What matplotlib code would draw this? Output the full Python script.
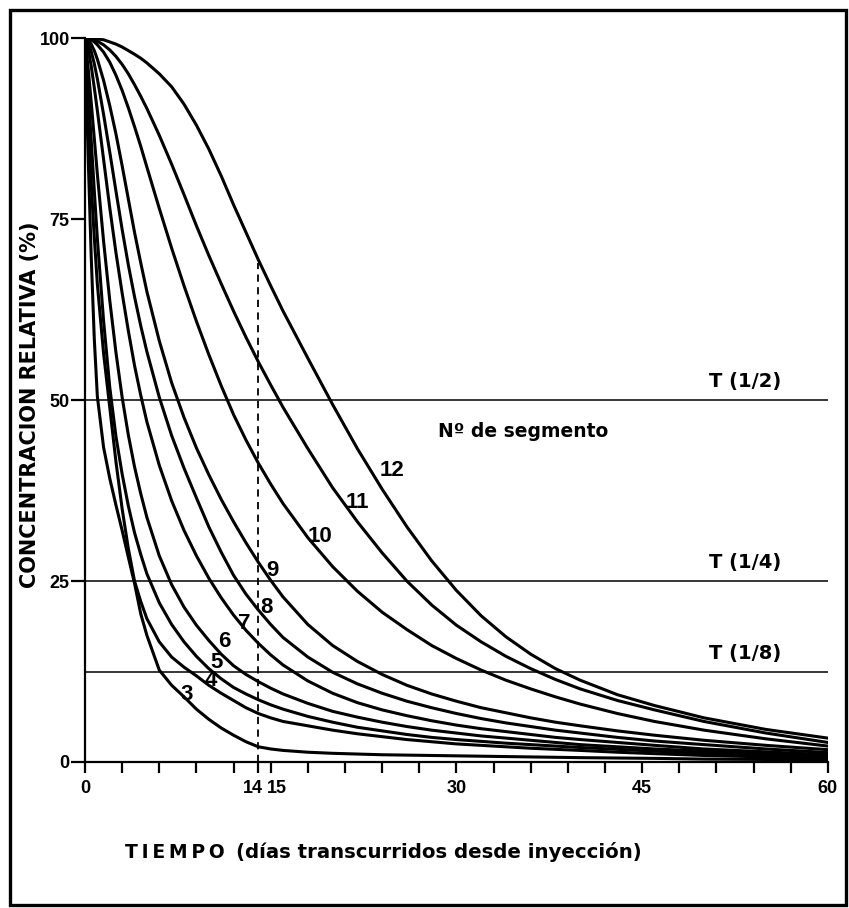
import matplotlib
matplotlib.use("Agg")
import matplotlib.pyplot as plt
from matplotlib.patches import Rectangle
from matplotlib.transforms import ScaledTranslation

# ---- values (days, % of initial) ----
t_days = [0, 0.25, 0.5, 0.75, 1, 1.5, 2, 2.5, 3, 3.5, 4, 4.5, 5,
          6, 7, 8, 9, 10, 11, 12, 13, 14, 15, 16,
          18, 20, 22, 24, 26, 28, 30,
          32, 34, 36, 38, 40,
          43, 46, 50, 55, 60]

seg3 = [100, 84, 70, 58.5, 50.5, 43.5, 39.2, 35.5, 32, 28.3, 24.7, 20.5, 17.5,
        12.7, 10.6, 9.0, 7.3, 5.9, 4.7, 3.7, 2.8, 2.1, 1.8, 1.6,
        1.35, 1.2, 1.1, 1.0, 0.95, 0.9, 0.85,
        0.8, 0.75, 0.7, 0.65, 0.6,
        0.55, 0.5, 0.4, 0.35, 0.3]
seg4 = [100, 89, 80, 72.5, 66, 56.5, 49, 41.5, 35, 29.5, 25, 22.2, 19.8,
        16.6, 14.5, 13.1, 11.9, 10.6, 9.5, 8.5, 7.5, 6.7, 6.1, 5.6,
        5, 4.4, 3.9, 3.5, 3.1, 2.8, 2.5,
        2.3, 2.1, 1.9, 1.75, 1.6,
        1.35, 1.15, 0.9, 0.7, 0.5]
seg5 = [100, 93, 86, 79, 72.3, 61, 51.8, 45, 39.8, 35.4, 31.7, 28.7, 26,
        22, 19, 16.6, 14.6, 12.9, 11.5, 10.3, 9.4, 8.6, 7.9, 7.3,
        6.3, 5.5, 4.8, 4.3, 3.8, 3.4, 3.1,
        2.85, 2.6, 2.4, 2.2, 2.0,
        1.75, 1.5, 1.2, 0.9, 0.6]
seg6 = [100, 96, 91.2, 86.2, 81.2, 72, 63.8, 56.6, 50.4, 45.2, 40.8, 37.1, 33.8,
        28.5, 24.5, 21.4, 18.9, 16.8, 14.9, 13.3, 12.1, 11.1, 10.2, 9.4,
        8.1, 7, 6.2, 5.5, 4.9, 4.4, 4,
        3.6, 3.3, 3.0, 2.7, 2.4,
        2.1, 1.8, 1.5, 1.1, 0.8]
seg7 = [100, 98.6, 96.2, 93.2, 90, 83.3, 76.6, 70.4, 64.8, 59.6, 54.8, 50.7, 47,
        41, 36.1, 32, 28.5, 25.4, 22.7, 20.3, 18.2, 16.4, 14.8, 13.4,
        11.2, 9.5, 8.2, 7.2, 6.4, 5.7, 5.1,
        4.6, 4.2, 3.8, 3.4, 3.1,
        2.7, 2.3, 1.8, 1.4, 1.0]
seg8 = [100, 99.5, 98.2, 96.5, 94.4, 89.5, 84.3, 78.9, 73.6, 68.7, 64.3, 60.3, 56.7,
        50.4, 45.1, 40.6, 36.5, 32.5, 29.0, 25.8, 23.2, 21.0, 19.0, 17.2,
        14.5, 12.4, 10.8, 9.5, 8.4, 7.5, 6.7,
        6.0, 5.4, 4.9, 4.4, 4.0,
        3.4, 2.9, 2.4, 1.8, 1.3]
seg9 = [100, 99.8, 99.2, 98.3, 97.1, 94.2, 90.7, 86.8, 82.4, 77.8, 73.2, 69.0, 65,
        58.2, 52.4, 47.6, 43.4, 39.7, 36.3, 33.2, 30.3, 27.6, 25.1, 22.8,
        19, 16.1, 13.9, 12.1, 10.6, 9.4, 8.4,
        7.5, 6.8, 6.1, 5.5, 5.0,
        4.3, 3.7, 3.0, 2.3, 1.7]
seg10 = [100, 100, 99.8, 99.5, 99.1, 98.1, 96.7, 94.9, 92.8, 90.4, 87.8, 85.1, 82.2,
         76.5, 71, 65.8, 60.9, 56.3, 52, 48, 44.5, 41.3, 38.4, 35.7,
         31, 27, 23.6, 20.7, 18.3, 16.1, 14.3,
         12.7, 11.3, 10.1, 9.0, 8.0,
         6.7, 5.6, 4.4, 3.2, 2.2]
seg11 = [100, 100, 99.9, 99.8, 99.6, 99.1, 98.4, 97.5, 96.4, 95.1, 93.6, 92.0, 90.3,
         86.6, 82.6, 78.4, 74.1, 70, 66.1, 62.3, 58.7, 55.3, 52.1, 49,
         43.3, 37.9, 33.2, 28.9, 25.0, 21.7, 18.9,
         16.6, 14.6, 12.9, 11.4, 10.1,
         8.5, 7.2, 5.6, 4.0, 2.7]
seg12 = [100, 100, 100, 100, 99.9, 99.8, 99.5, 99.2, 98.8, 98.3, 97.8, 97.25, 96.6,
         95.1, 93.3, 90.9, 88.0, 84.7, 81.0, 77, 73.2, 69.4, 65.8, 62.3,
         55.8, 49.4, 43.3, 37.7, 32.5, 27.8, 23.7,
         20.2, 17.3, 14.9, 12.9, 11.3,
         9.3, 7.8, 6.1, 4.5, 3.3]

segments = [seg3, seg4, seg5, seg6, seg7, seg8, seg9, seg10, seg11, seg12]
seg_names = ["3", "4", "5", "6", "7", "8", "9", "10", "11", "12"]
# where each segment number sits (day, %)
seg_label_x = [8.2, 10.2, 10.6, 11.25, 12.9, 14.65, 15.1, 19.0, 22.0, 24.8]
seg_label_y = [9.3, 11.3, 13.8, 16.6, 19.2, 21.4, 26.5, 31.1, 35.8, 40.3]

half_levels = [50, 25, 12.5]
half_names = ["T (1/2)", "T (1/4)", "T (1/8)"]
day_marked = 14
day_marked_top = 69

x_ticks = [0, 14, 15, 30, 45, 60]
y_ticks = [0, 25, 50, 75, 100]

num_font = "Liberation Sans"
txt_font = "DejaVu Sans"

fig = plt.figure(figsize=(8.49, 9.08), dpi=100)
ax = fig.add_axes([0.1001, 0.1608, 0.875, 0.797])

for s in segments:
    ax.plot(t_days, s, color="black", lw=2.2, solid_joinstyle="round")

ax.hlines(half_levels, 0, 60, color="black", lw=1.1)
for lev, name in zip(half_levels, half_names):
    ax.text(53.3, lev + 1.2, name, ha="center", va="bottom", fontsize=14,
            fontweight="bold", family=txt_font)

ax.plot([day_marked, day_marked], [0, day_marked_top], color="black", lw=1.3,
        ls=(0, (4, 3)))

for name, lx, ly in zip(seg_names, seg_label_x, seg_label_y):
    ax.text(lx, ly, name, ha="center", va="center", fontsize=16,
            fontweight="bold", family=num_font)

ax.text(42.3, 45.6, "Nº de segmento", ha="right", va="center", fontsize=13.5,
        fontweight="bold", family=txt_font)

ax.set_xlim(0, 60)
ax.set_ylim(0, 100)
ax.spines["top"].set_visible(False)
ax.spines["right"].set_visible(False)
ax.spines["left"].set_linewidth(1.6)
ax.spines["bottom"].set_linewidth(1.6)

ax.set_xticks(x_ticks)
ax.set_xticklabels([str(v) for v in x_ticks])
ax.set_xticks(list(range(0, 61, 3)), minor=True)
ax.set_yticks(y_ticks)
ax.set_yticklabels([str(v) for v in y_ticks])
ax.tick_params(axis="both", which="both", direction="out", width=1.6,
               labelsize=13)
ax.tick_params(axis="x", which="both", length=8, pad=5)
ax.tick_params(axis="y", length=10, pad=1)
for lab in ax.get_xticklabels() + ax.get_yticklabels():
    lab.set_fontweight("bold")
    lab.set_family(num_font)

# "14" and "15" sit close together, pushed apart from their ticks
xlabs = ax.get_xticklabels()
xlabs[1].set_horizontalalignment("right")
xlabs[1].set_transform(xlabs[1].get_transform() + ScaledTranslation(3 / 72, 0, fig.dpi_scale_trans))
xlabs[2].set_horizontalalignment("left")
xlabs[2].set_transform(xlabs[2].get_transform() + ScaledTranslation(-3 / 72, 0, fig.dpi_scale_trans))

fig.text(30 / 849, 1 - 405 / 908, "CONCENTRACION RELATIVA (%)", rotation=90,
         ha="center", va="center", fontsize=15, fontweight="bold", family=txt_font)
fig.text(125 / 849, 1 - 858 / 908, "T\u2009I\u2009E\u2009M\u2009P\u2009O",
         ha="left", va="baseline", fontsize=13.5, fontweight="bold", family=txt_font)
fig.text(236 / 849, 1 - 858 / 908, "(días transcurridos desde inyección)",
         ha="left", va="baseline", fontsize=14.2, fontweight="bold", family=txt_font)

fig.patches.append(Rectangle((10 / 849, 1 - 905 / 908), 836 / 849, 895 / 908,
                             transform=fig.transFigure, fill=False,
                             edgecolor="black", lw=2.4))

fig.savefig("out.png", dpi=100)
